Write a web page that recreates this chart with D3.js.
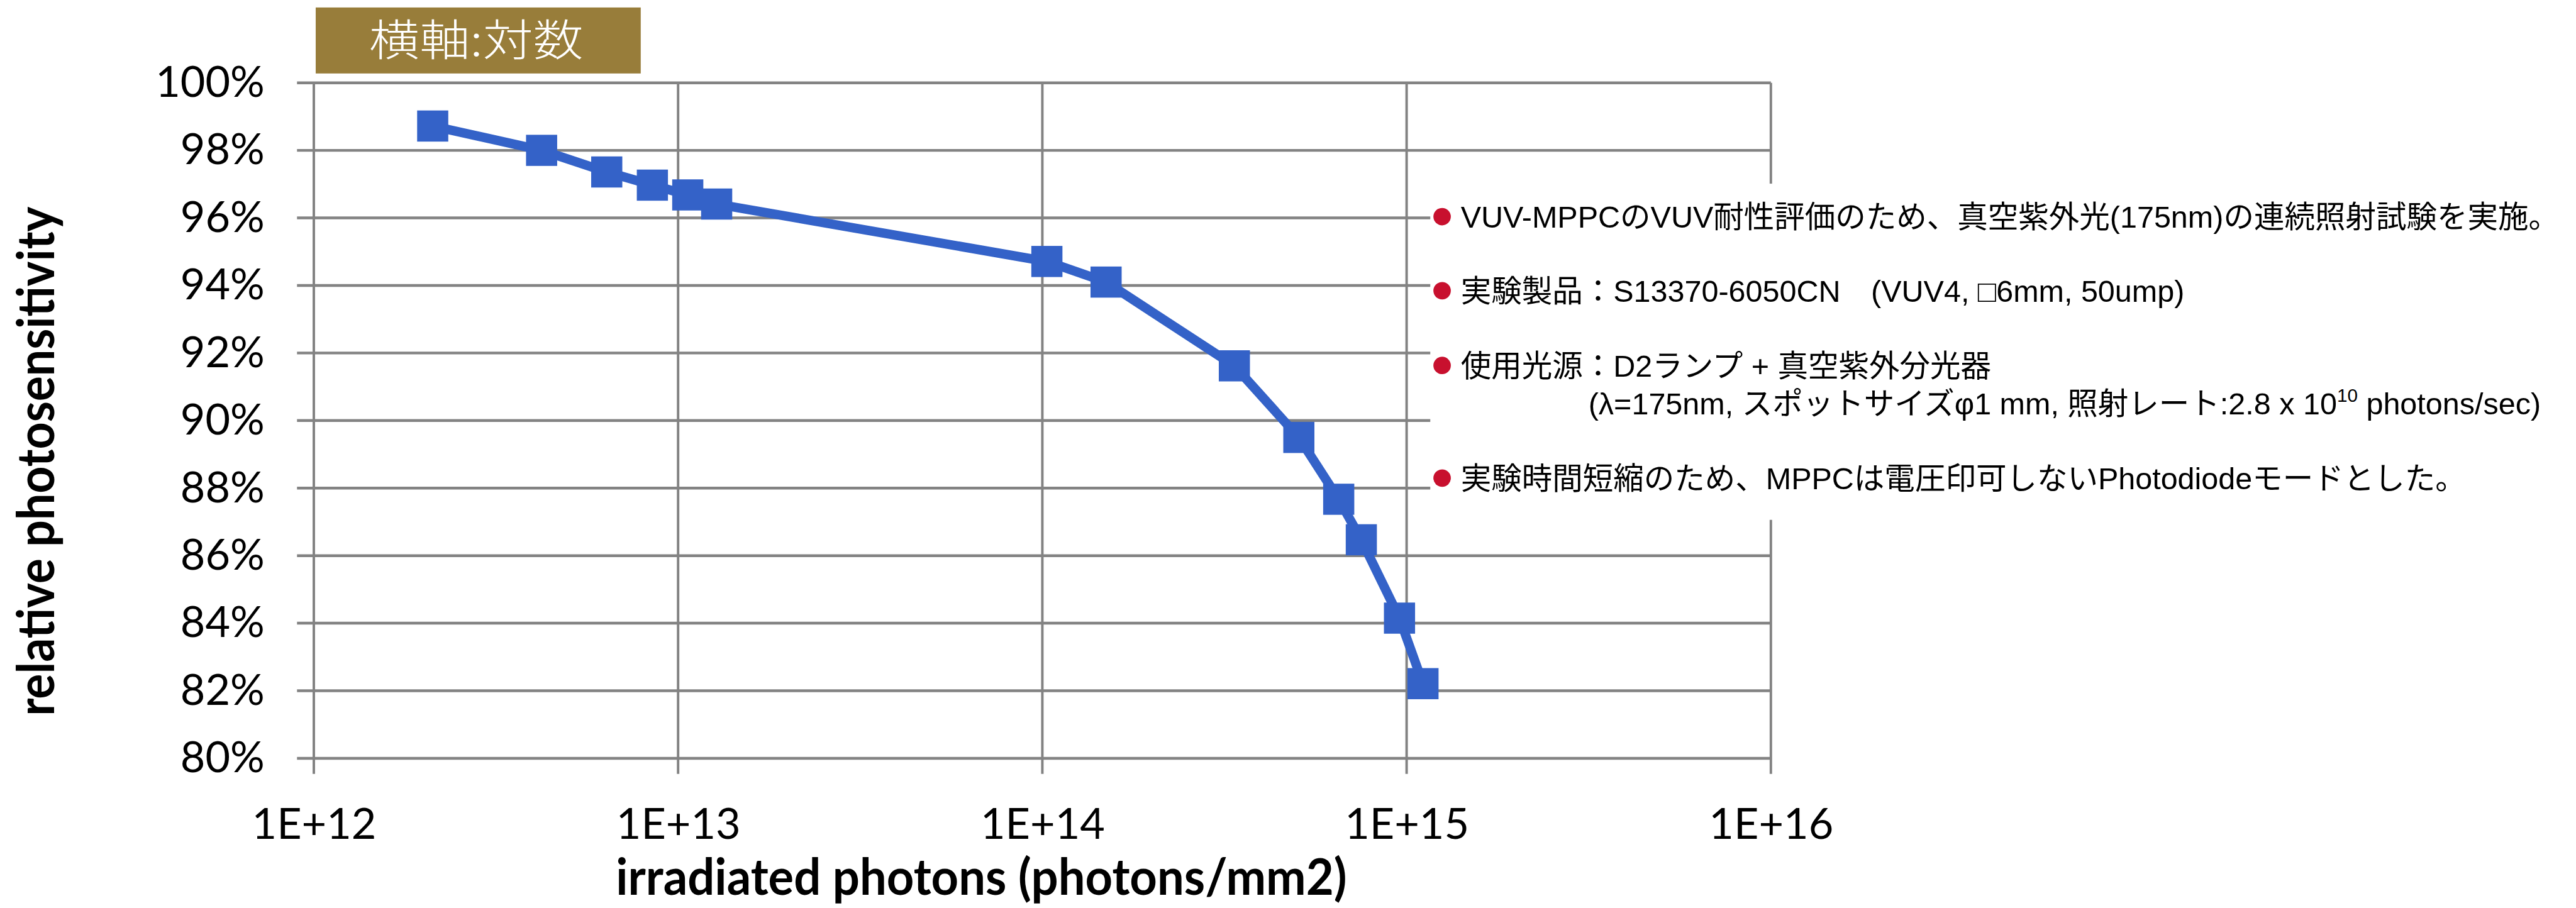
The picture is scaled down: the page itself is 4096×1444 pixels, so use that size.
<!DOCTYPE html>
<html>
<head>
<meta charset="utf-8">
<script src="https://cdn.jsdelivr.net/npm/d3@7"></script>
<style>
  html, body { margin: 0; padding: 0; background: #fff; overflow: hidden; }
  svg { display: block; }
</style>
</head>
<body>
<svg id="canvas"></svg>
<script>
'use strict';

// irradiated photons (photons/mm2) vs relative photosensitivity
var photons = [2.12e12, 4.22e12, 6.37e12, 8.50e12, 1.063e13, 1.276e13,
  1.029e14, 1.496e14, 3.366e14, 5.06e14, 6.51e14, 7.51e14, 9.56e14, 1.109e15];
var sensitivity = [0.9872, 0.9800, 0.9736, 0.9697, 0.9668, 0.9641,
  0.9471, 0.9410, 0.9162, 0.8950, 0.8767, 0.8647, 0.8415, 0.8221];

var xTicks = [1e12, 1e13, 1e14, 1e15, 1e16];
var xTickLabels = ['1E+12', '1E+13', '1E+14', '1E+15', '1E+16'];
var yTicks = [0.80, 0.82, 0.84, 0.86, 0.88, 0.90, 0.92, 0.94, 0.96, 0.98, 1.00];
var yTickLabels = ['80%', '82%', '84%', '86%', '88%', '90%', '92%', '94%', '96%', '98%', '100%'];

var xTitle = 'irradiated photons (photons/mm2)';
var yTitle = 'relative photosensitivity';
var tagText = '横軸:対数';

// notes: bullet lines and one continuation line with a superscript
var noteBullets = [true, true, true, false, true];
var noteLines = [
  [['VUV-MPPCのVUV耐性評価のため、真空紫外光(175nm)の連続照射試験を実施。']],
  [['実験製品：S13370-6050CN　(VUV4, □6mm, 50ump)']],
  [['使用光源：D2ランプ + 真空紫外分光器']],
  [['(λ=175nm, スポットサイズφ1 mm, 照射レート:2.8 x 10'], ['10', 'sup'], [' photons/sec)']],
  [['実験時間短縮のため、MPPCは電圧印可しないPhotodiodeモードとした。']]
];

var REF_W = 4137, REF_H = 1458;
var BLUE = '#3462c8';
var GRID = '#838383';
var RED = '#c8102e';
var LATIN = 'Lato, "Liberation Sans", sans-serif';
var JP = '"Liberation Sans", "Noto Sans CJK JP", sans-serif';

function RenderChart() {
  var W = window.innerWidth || 4096, H = window.innerHeight || 1444;
  var k = W / REF_W;
  var svg = d3.select('#canvas').attr('width', W).attr('height', H);
  svg.append('rect').attr('width', W).attr('height', H).attr('fill', '#fff');
  var g = svg.append('g').attr('transform', 'scale(' + k + ')');

  var plot = { left: 504, right: 2844, top: 133, bottom: 1218 };
  var x = d3.scaleLog().domain([1e12, 1e16]).range([plot.left, plot.right]);
  var y = d3.scaleLinear().domain([0.80, 1.00]).range([plot.bottom, plot.top]);

  // grid (axis lines are grid lines too, with short outer ticks)
  var grid = g.append('g').attr('stroke', GRID).attr('stroke-width', 4.5);
  grid.selectAll('line.h').data(yTicks).enter().append('line')
      .attr('class', 'h')
      .attr('x1', plot.left - 27).attr('x2', plot.right)
      .attr('y1', y).attr('y2', y);
  grid.selectAll('line.v').data(xTicks).enter().append('line')
      .attr('class', 'v')
      .attr('stroke-width', 4)
      .attr('x1', x).attr('x2', x)
      .attr('y1', plot.top).attr('y2', plot.bottom + 25);

  // y tick labels
  var yAxis = g.append('g')
      .attr('transform', 'translate(' + plot.left + ',0)')
      .call(d3.axisLeft(y).tickValues(yTicks)
        .tickFormat(function(d, i) { return yTickLabels[i]; })
        .tickSize(0).tickPadding(79));
  yAxis.select('.domain').remove();
  yAxis.selectAll('text')
      .attr('font-family', LATIN).attr('font-size', 69).attr('fill', '#000');

  // x tick labels
  var xAxis = g.append('g')
      .attr('transform', 'translate(0,' + plot.bottom + ')')
      .call(d3.axisBottom(x).tickValues(xTicks)
        .tickFormat(function(d, i) { return xTickLabels[i]; })
        .tickSize(0).tickPadding(80));
  xAxis.select('.domain').remove();
  xAxis.selectAll('text')
      .attr('font-family', LATIN).attr('font-size', 69).attr('fill', '#000');

  // axis titles
  g.append('text')
      .attr('x', 989).attr('y', 1437)
      .attr('font-family', LATIN).attr('font-weight', 'bold')
      .attr('font-size', 82)
      .attr('textLength', 1174).attr('lengthAdjust', 'spacingAndGlyphs')
      .text(xTitle);
  g.append('text')
      .attr('transform', 'translate(87,741) rotate(-90)')
      .attr('text-anchor', 'middle')
      .attr('font-family', LATIN).attr('font-weight', 'bold')
      .attr('font-size', 84)
      .attr('textLength', 818).attr('lengthAdjust', 'spacingAndGlyphs')
      .text(yTitle);

  // series
  var pts = photons.map(function(p, i) { return [p, sensitivity[i]]; });
  var line = d3.line()
      .x(function(d) { return x(d[0]); })
      .y(function(d) { return y(d[1]); });
  g.append('path')
      .datum(pts)
      .attr('d', line)
      .attr('fill', 'none')
      .attr('stroke', BLUE)
      .attr('stroke-width', 15)
      .attr('stroke-linejoin', 'round');
  var m = 50;
  g.selectAll('rect.marker').data(pts).enter().append('rect')
      .attr('class', 'marker')
      .attr('x', function(d) { return x(d[0]) - m / 2; })
      .attr('y', function(d) { return y(d[1]) - m / 2; })
      .attr('width', m).attr('height', m)
      .attr('fill', BLUE);

  // notes panel (white, covers the grid)
  g.append('rect')
      .attr('x', 2297).attr('y', 295)
      .attr('width', REF_W - 2297).attr('height', 540)
      .attr('fill', '#fff');
  var rowY = [348, 467, 587, 648, 768];
  var notes = g.append('g').attr('font-family', JP).attr('font-size', 49).attr('fill', '#000');
  noteLines.forEach(function(parts, i) {
    if (noteBullets[i]) {
      notes.append('circle')
          .attr('cx', 2316).attr('cy', rowY[i]).attr('r', 14)
          .attr('fill', RED);
    }
    var t = notes.append('text')
        .attr('x', noteBullets[i] ? 2346 : 2551)
        .attr('y', rowY[i])
        .attr('dy', '0.36em');
    parts.forEach(function(p) {
      var s = t.append('tspan').text(p[0]);
      if (p[1] === 'sup') {
        s.attr('font-size', 30).attr('dy', -20);
      } else if (t.selectAll('tspan').size() > 1) {
        s.attr('dy', 20);
      }
    });
  });

  // tag box
  g.append('rect')
      .attr('x', 507).attr('y', 12)
      .attr('width', 522).attr('height', 106)
      .attr('fill', '#987d3a');
  g.append('text')
      .attr('x', 765).attr('y', 65)
      .attr('dy', '0.36em')
      .attr('text-anchor', 'middle')
      .attr('font-family', '"Noto Sans CJK JP", sans-serif')
      .attr('font-weight', 300)
      .attr('font-size', 70)
      .attr('fill', '#fff')
      .attr('textLength', 344).attr('lengthAdjust', 'spacingAndGlyphs')
      .text(tagText);
}

RenderChart();
</script>
</body>
</html>
